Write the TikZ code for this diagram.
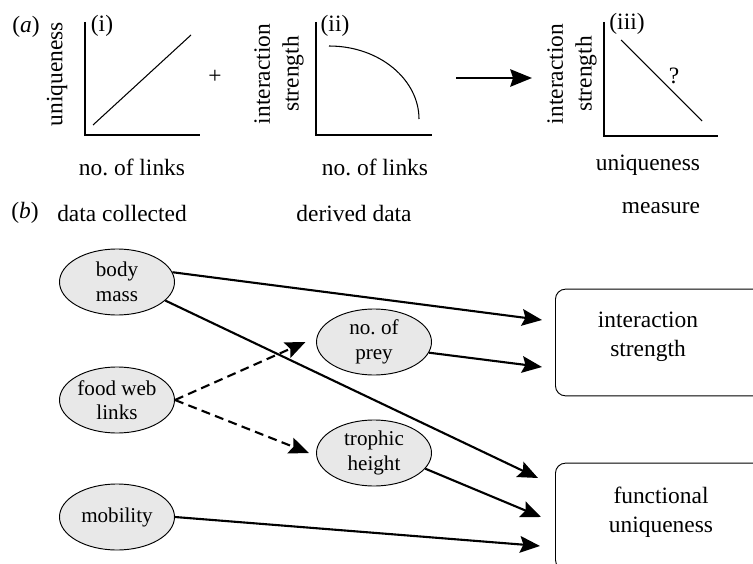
\documentclass[tikz,border=0pt]{standalone}
\usepackage{fontspec}
\setmainfont{Liberation Serif}
\usetikzlibrary{arrows.meta,shapes.geometric}
\frenchspacing

\begin{document}
\begin{tikzpicture}[x=0.03cm,y=-0.03cm,
	font=\fontsize{20}{24.5}\selectfont,
	axis/.style={line width=1pt},
	curve/.style={line width=0.9pt},
	data/.style={shape=ellipse,draw=black,line width=0.8pt,fill=black!9,
		minimum width=3.45cm,minimum height=1.98cm,inner sep=0pt,align=center,
		font=\fontsize{18}{21}\selectfont},
	measure/.style={draw=black,line width=0.8pt,rounded corners=0.3cm,
		minimum width=7.5cm,minimum height=3.2cm,anchor=west},
	link/.style={line width=1.8pt,-{Stealth[length=6mm,width=5mm,inset=1mm]}},
	derived/.style={link,dash pattern=on 2.7mm off 1.6mm}]
	\clip (0,0) rectangle (753,564);

	% (a) three sketch plots
	\node (la) at (26,27) {(\textit{a})};
	\node (p1) at (102,26) {(i)};
	\node[rotate=90] (y1) at (57,74) {uniqueness};
	\node (x1) at (132,167) {no. of links};
	\draw[axis] (85,22) -- (85,135) -- (200,135);
	\draw[curve] (93,125) -- (191,35);

	\node (plus) at (215,77) {+};

	\node (p2) at (335,26) {(ii)};
	\node[rotate=90,align=center] (y2) at (279,74) {interaction\\strength};
	\node (x2) at (375,167) {no. of links};
	\draw[axis] (316,22) -- (316,135) -- (432,135);
	\draw[curve] (329,46) .. controls (380,46) and (419,80) .. (419,119);

	\draw[line width=2pt,-{Stealth[length=6.5mm,width=5.2mm,inset=0.8mm]}] (456,78) -- (532,78);

	\node (p3) at (627,24) {(iii)};
	\node[rotate=90,align=center] (y3) at (572,74) {interaction\\strength};
	\node (x3) at (648,165) {uniqueness};
	\draw[axis] (604,22) -- (604,136) -- (718,136);
	\draw[curve] (621,40) -- (702,121);
	\node (qm) at (674,76) {?};

	% (b) headings
	\node (lb) at (25,213) {(\textit{b})};
	\node (h1) at (122,213) {data collected};
	\node (h2) at (354,213) {derived data};
	\node (h3) at (661,208) {measure};

	% (b) data and measures
	\node[data] (bm) at (117,282) {body\\mass};
	\node[data] (fwl) at (117,400) {food web\\links};
	\node[data] (mob) at (117,517) {mobility};
	\node[data] (np) at (374,342) {no. of\\prey};
	\node[data] (th) at (374,453) {trophic\\height};

	\node[measure] (is) at (555,342.5) {};
	\node (ist) at (648,337) [align=center] {interaction\\strength};
	\node[measure] (fu) at (555,516.5) {};
	\node (fut) at (661,512) [align=center] {functional\\uniqueness};

	\coordinate (is1) at (542,320);
	\coordinate (is2) at (542,367);
	\coordinate (fu1) at (538,478);
	\coordinate (fu2) at (541,517);
	\coordinate (fu3) at (540,546);

	\path [link] (bm.10) edge (is1);
	\path [link] (bm.-21) edge (fu1);
	\path [derived] (fwl.east) edge ([xshift=-9]np.west);
	\path [derived] (fwl.east) edge ([xshift=-6]th.west);
	\path [link] (np.-11) edge (is2);
	\path [link] (th.-17) edge (fu2);
	\path [link] (mob.east) edge (fu3);
\end{tikzpicture}
\end{document}
